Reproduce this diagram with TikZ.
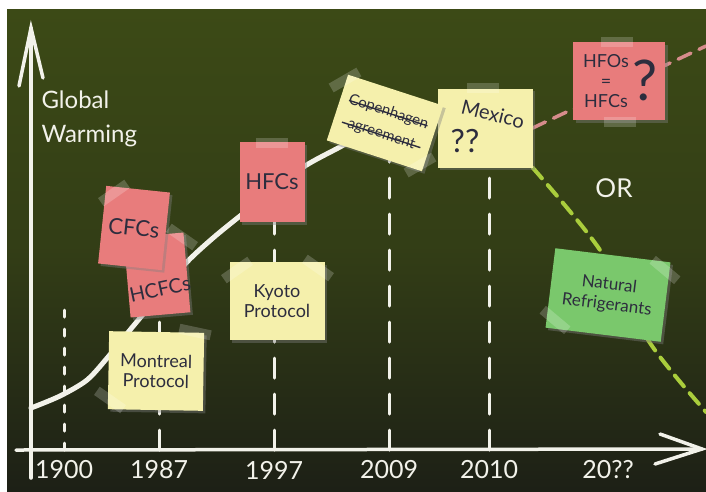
\documentclass[tikz,border=0pt]{standalone}
\usepackage{fontspec}
\setmainfont{Lato}
\usetikzlibrary{shadows,calc}
\definecolor{boardtop}{RGB}{60,74,22}
\definecolor{boardbot}{RGB}{29,32,22}
\definecolor{notepink}{RGB}{232,124,124}
\definecolor{noteyellow}{RGB}{245,240,172}
\definecolor{notegreen}{RGB}{122,200,108}
\definecolor{ink}{RGB}{45,45,62}
\definecolor{chalk}{RGB}{242,242,234}
\definecolor{pinkline}{RGB}{214,140,140}
\definecolor{limeline}{RGB}{170,205,60}
\pgfdeclarelayer{board}
\pgfdeclarelayer{lines}
\pgfsetlayers{board,lines,main}

\begin{document}
\begin{tikzpicture}[x=1pt,y=-1pt,
  note/.style={inner sep=0pt,text=ink,align=center,font=\fontsize{18}{20}\selectfont,drop shadow={opacity=0.4}},
  pinknote/.style={note,fill=notepink},
  yellownote/.style={note,fill=noteyellow},
  greennote/.style={note,fill=notegreen},
  notetext/.style={text=ink,inner sep=0pt},
  chalk/.style={draw=chalk,line width=3.5pt,line cap=round},
  tickline/.style={chalk,line width=3pt,dash pattern=on 20pt off 16pt},
  year/.style={text=chalk,font=\fontsize{25}{25}\selectfont,inner sep=0pt},
  strike/.style={draw=ink,line width=1.4pt,shorten >=9pt,shorten <=9pt},
  tape/.style={fill=white,opacity=0.2}]
\useasboundingbox (0,0) rectangle (706,491);
\begin{pgfonlayer}{board}
\fill[white] (0,0) rectangle (706,491);
\shade[top color=boardtop,bottom color=boardbot,middle color=boardtop!70!boardbot] (7,9) rectangle (706,491);
\end{pgfonlayer}
\path node (n0) at (157,275) [pinknote,rotate=5,minimum width=60pt,minimum height=80pt] {}
node (n1) at (134,228) [pinknote,rotate=-6,minimum width=64pt,minimum height=78pt,font=\fontsize{22}{24}\selectfont] {CFCs}
node (t0) at (160,289) [notetext,rotate=12,font=\fontsize{20}{20}\selectfont] {HCFCs}
node (n2) at (156,371) [yellownote,rotate=-1,minimum width=95pt,minimum height=78pt] {Montreal\\Protocol}
node (n3) at (272,182) [pinknote,minimum width=65pt,minimum height=80pt,font=\fontsize{22}{24}\selectfont] {HFCs}
node (n4) at (277,301) [yellownote,minimum width=95pt,minimum height=78pt] {Kyoto\\Protocol}
node (n5) at (485,128) [yellownote,minimum width=95pt,minimum height=79pt] {}
node (t1) at (493,114) [notetext,rotate=-14,font=\fontsize{20}{20}\selectfont] {Mexico}
node (t2) at (465,141) [notetext,font=\fontsize{32}{32}\selectfont] {??}
node (n6) at (385,123) [yellownote,rotate=-18,minimum width=100pt,minimum height=69pt,font=\fontsize{15}{23}\selectfont] {Copenhagen\\agreement}
node (n7) at (619,81) [pinknote,minimum width=92pt,minimum height=78pt] {}
node (t3) at (606,81) [notetext,align=center,font=\fontsize{18}{20}\selectfont] {HFOs\\=\\HFCs}
node (t4) at (645,80) [notetext,font=\fontsize{56}{56}\selectfont] {?}
node (n8) at (608,295) [greennote,rotate=-7,minimum width=116pt,minimum height=80pt,font=\fontsize{17}{20}\selectfont] {Natural\\Refrigerants}
node (t5) at (614,188) [text=chalk,font=\fontsize{26}{26}\selectfont] {OR}
node (t6) at (38,119) [anchor=west,text=chalk,align=left,font=\fontsize{24}{34}\selectfont] {Global\\Warming};
\path node (y0) at (64,470) [year] {1900}
node (y1) at (159,470) [year] {1987}
node (y2) at (274,470) [year] {1997}
node (y3) at (389,470) [year] {2009}
node (y4) at (489,470) [year] {2010}
node (y5) at (608,470) [year] {20??};
\coordinate (ytop) at (31,28);
\coordinate (ybot) at (31,478);
\coordinate (xl) at (16,450);
\coordinate (xr) at (702,449);
\begin{pgfonlayer}{lines}
\draw[chalk] (ybot) -- (ytop);
\draw[chalk] (19,86) -- (ytop) -- (43,78);
\draw[chalk] (xl) -- (xr);
\draw[chalk] (660,434) -- (xr) -- (655,464);
\draw[tickline,dash pattern=on 7pt off 12pt] (y0 |- xl) -- (64,310);
\draw[tickline] (y1 |- xl) -- (y1 |- n0.center);
\draw[tickline] (y2 |- xl) -- (y2 |- n3.center);
\draw[tickline] (y3 |- xl) -- (y3 |- n6.center);
\draw[tickline] (y4 |- xl) -- (y4 |- n5.center);
\draw[chalk,line width=5pt] plot[smooth] coordinates {(31,408) (60,396) (87,380) (108,357) (130,330) (160,294) (187,262) (213,238) (240,216) (272,191) (305,166) (340,147) (n6.center) (440,121) (n5.center)};
\draw[chalk,draw=pinkline,dash pattern=on 14pt off 9pt] (n5.east) -- (706,46);
\draw[chalk,draw=limeline,line width=4pt,dash pattern=on 14pt off 9pt] plot[smooth] coordinates {(n5.south east) (600,250) (650,343) (706,412)};
\end{pgfonlayer}
\draw[strike] ($(n6.north west)!0.35!(n6.south west)$) -- ($(n6.north east)!0.35!(n6.south east)$);
\draw[strike] ($(n6.north west)!0.68!(n6.south west)$) -- ($(n6.north east)!0.68!(n6.south east)$);
\foreach \x/\y/\r in {114/193/35,182/237/-35,195/332/-12,110/400/-35,272/143/0,237/270/35,318/268/-35,345/80/30,420/165/30,483/88/0,617/42/0,620/122/0,665/270/-40,555/320/-40}
  \fill[tape,rotate around={\r:(\x,\y)}] (\x-16,\y-5) rectangle (\x+16,\y+5);
\end{tikzpicture}
\end{document}
